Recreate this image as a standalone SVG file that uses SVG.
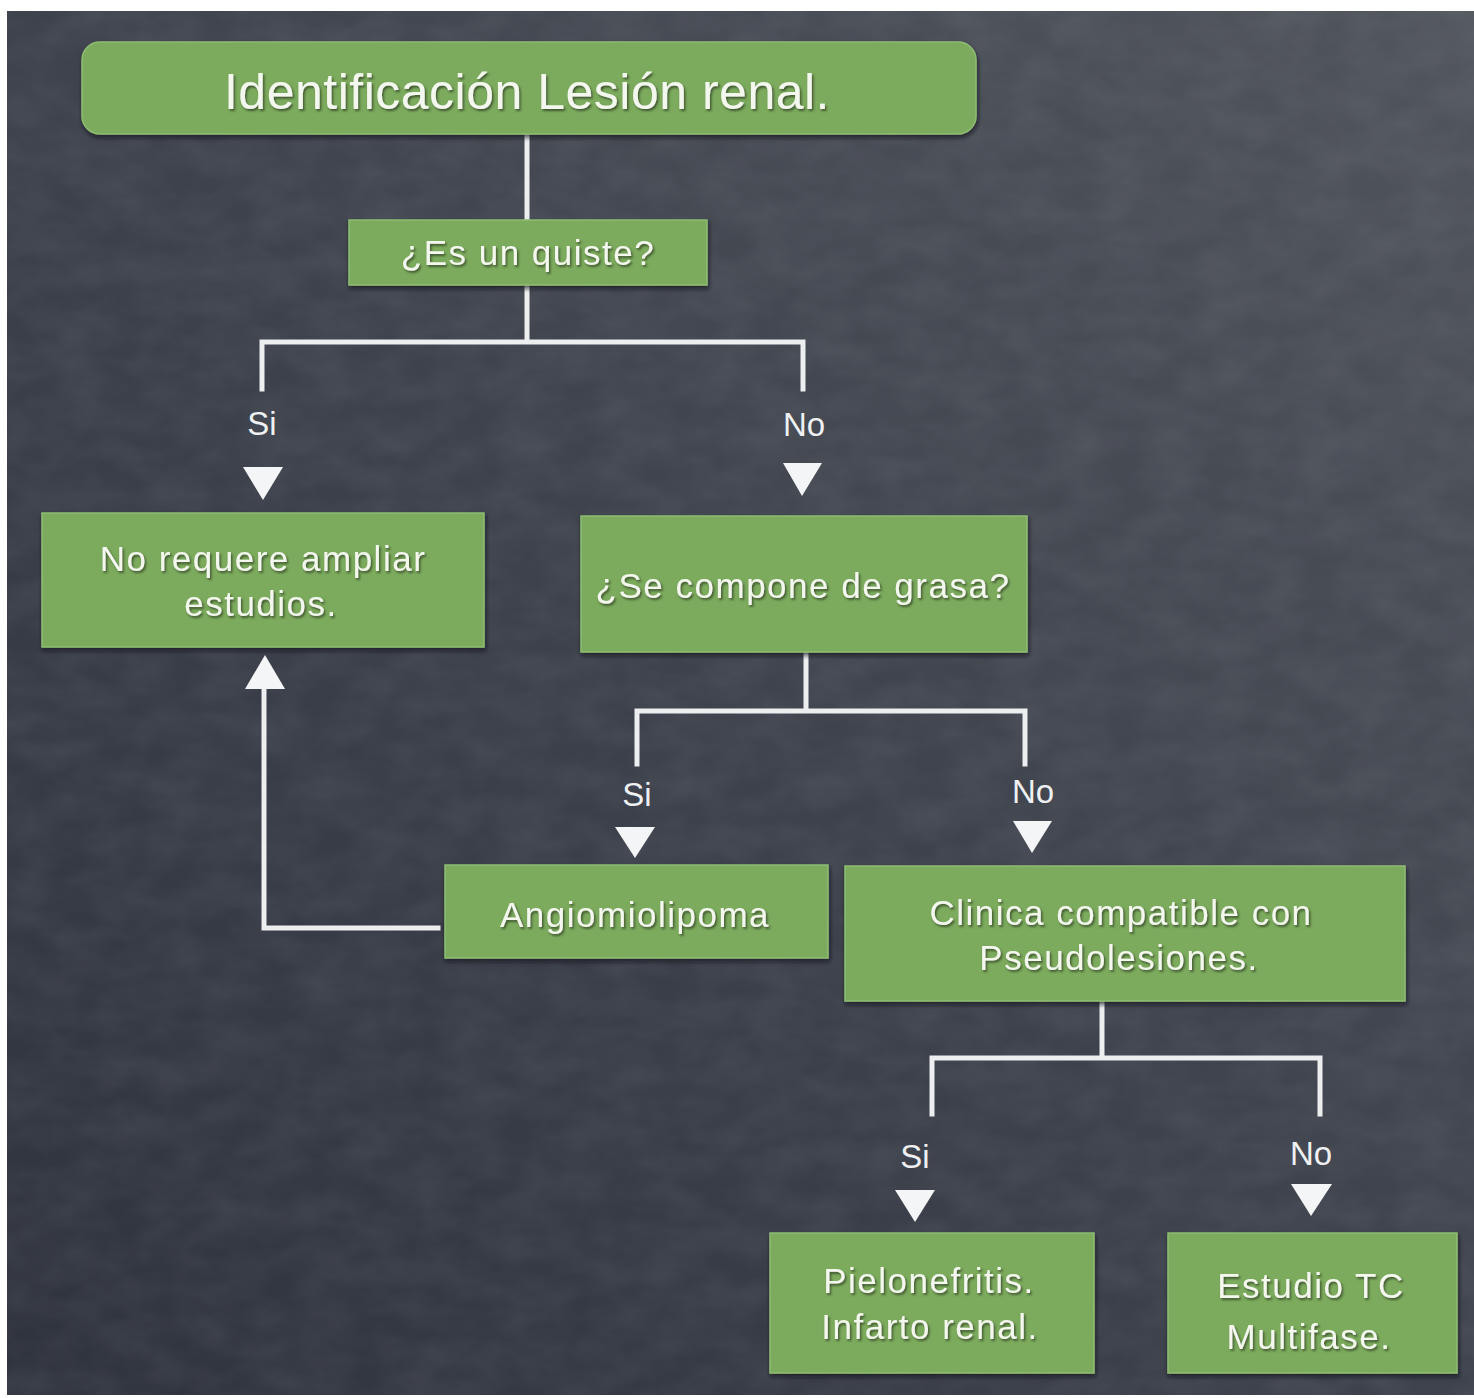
<svg xmlns="http://www.w3.org/2000/svg" width="1474" height="1398" viewBox="0 0 1474 1398">
  <defs>
    <linearGradient id="board" x1="0" y1="1" x2="1" y2="0">
      <stop offset="0" stop-color="#2f333d"/>
      <stop offset="0.5" stop-color="#3d424c"/>
      <stop offset="1" stop-color="#51555c"/>
    </linearGradient>
    <filter id="chalk" x="0" y="0" width="100%" height="100%">
      <feTurbulence type="fractalNoise" baseFrequency="0.02 0.035" numOctaves="3" seed="4" result="n"/>
      <feColorMatrix in="n" type="matrix" values="0 0 0 0 0.7  0 0 0 0 0.72  0 0 0 0 0.78  0 0 0 0.25 -0.06"/>
    </filter>
    <filter id="tshadow" x="-10%" y="-30%" width="120%" height="160%">
      <feDropShadow dx="1.5" dy="2" stdDeviation="1" flood-color="#2d3a24" flood-opacity="0.75"/>
    </filter>
    <filter id="bshadow" x="-5%" y="-10%" width="110%" height="125%">
      <feDropShadow dx="1" dy="3" stdDeviation="2" flood-color="#15181d" flood-opacity="0.7"/>
    </filter>
    <style>
      .box { fill: #7bab5d; stroke: #8fbc73; stroke-width: 1.5; filter: url(#bshadow); }
      .t { font-family: "Liberation Sans", Arial, sans-serif; fill: #f3f7ee; text-anchor: middle; filter: url(#tshadow); }
      .m { font-size: 35px; letter-spacing: 1.5px; }
      .lbl { font-family: "Liberation Sans", Arial, sans-serif; fill: #eef0f2; font-size: 33px; text-anchor: middle; }
      .ln { stroke: #eceef0; stroke-width: 5; fill: none; stroke-linecap: square; }
      .tri { fill: #f4f5f6; }
    </style>
  </defs>

  <rect x="0" y="0" width="1474" height="1398" fill="#ffffff"/>
  <rect x="7" y="11" width="1467" height="1384" fill="url(#board)"/>
  <rect x="7" y="11" width="1467" height="1384" filter="url(#chalk)" opacity="0.45"/>

  <g id="connectors">
    <path class="ln" d="M527 134 V220 M527 285 V342 M262 342 H803 M262 342 V389 M803 342 V389"/>
    <path class="ln" d="M806 652 V711 M637 711 H1025 M637 711 V764 M1025 711 V764"/>
    <path class="ln" d="M1102 1001 V1058 M932 1058 H1320 M932 1058 V1114 M1320 1058 V1114"/>
    <path class="ln" d="M438 928 H264 V686"/>
    <polygon class="tri" points="245,689 285,689 265,655"/>
    <polygon class="tri" points="243,467 283,467 263,500"/>
    <polygon class="tri" points="783,463 822,463 802,496"/>
    <polygon class="tri" points="615,827 655,827 635,858"/>
    <polygon class="tri" points="1013,821 1052,821 1032,853"/>
    <polygon class="tri" points="895,1190 935,1190 915,1222"/>
    <polygon class="tri" points="1291,1184 1332,1184 1311,1216"/>
    <text class="lbl" x="262" y="435">Si</text>
    <text class="lbl" x="804" y="436">No</text>
    <text class="lbl" x="637" y="806">Si</text>
    <text class="lbl" x="1033" y="803">No</text>
    <text class="lbl" x="915" y="1168">Si</text>
    <text class="lbl" x="1311" y="1165">No</text>
  </g>

  <g id="n1">
    <rect class="box" x="82" y="42" width="894" height="92" rx="18"/>
    <text class="t" x="527" y="109" font-size="50" letter-spacing="0.5">Identificación Lesión renal.</text>
  </g>
  <g id="n2">
    <rect class="box" x="349" y="220" width="358" height="65"/>
    <text class="t m" x="528" y="265">¿Es un quiste?</text>
  </g>
  <g id="n3">
    <rect class="box" x="42" y="513" width="442" height="134"/>
    <text class="t m" x="263" y="571">No requere ampliar</text>
    <text class="t m" x="261" y="616">estudios.</text>
  </g>
  <g id="n4">
    <rect class="box" x="581" y="516" width="446" height="136"/>
    <text class="t m" x="803" y="598">¿Se compone de grasa?</text>
  </g>
  <g id="n5">
    <rect class="box" x="445" y="865" width="383" height="93"/>
    <text class="t m" x="635" y="927">Angiomiolipoma</text>
  </g>
  <g id="n6">
    <rect class="box" x="845" y="866" width="560" height="135"/>
    <text class="t m" x="1121" y="925">Clinica compatible con</text>
    <text class="t m" x="1119" y="970">Pseudolesiones.</text>
  </g>
  <g id="n7">
    <rect class="box" x="770" y="1233" width="324" height="140"/>
    <text class="t m" x="929" y="1293">Pielonefritis.</text>
    <text class="t m" x="930" y="1339">Infarto renal.</text>
  </g>
  <g id="n8">
    <rect class="box" x="1168" y="1233" width="289" height="140"/>
    <text class="t m" x="1311" y="1298">Estudio TC</text>
    <text class="t m" x="1309" y="1349">Multifase.</text>
  </g>
</svg>
